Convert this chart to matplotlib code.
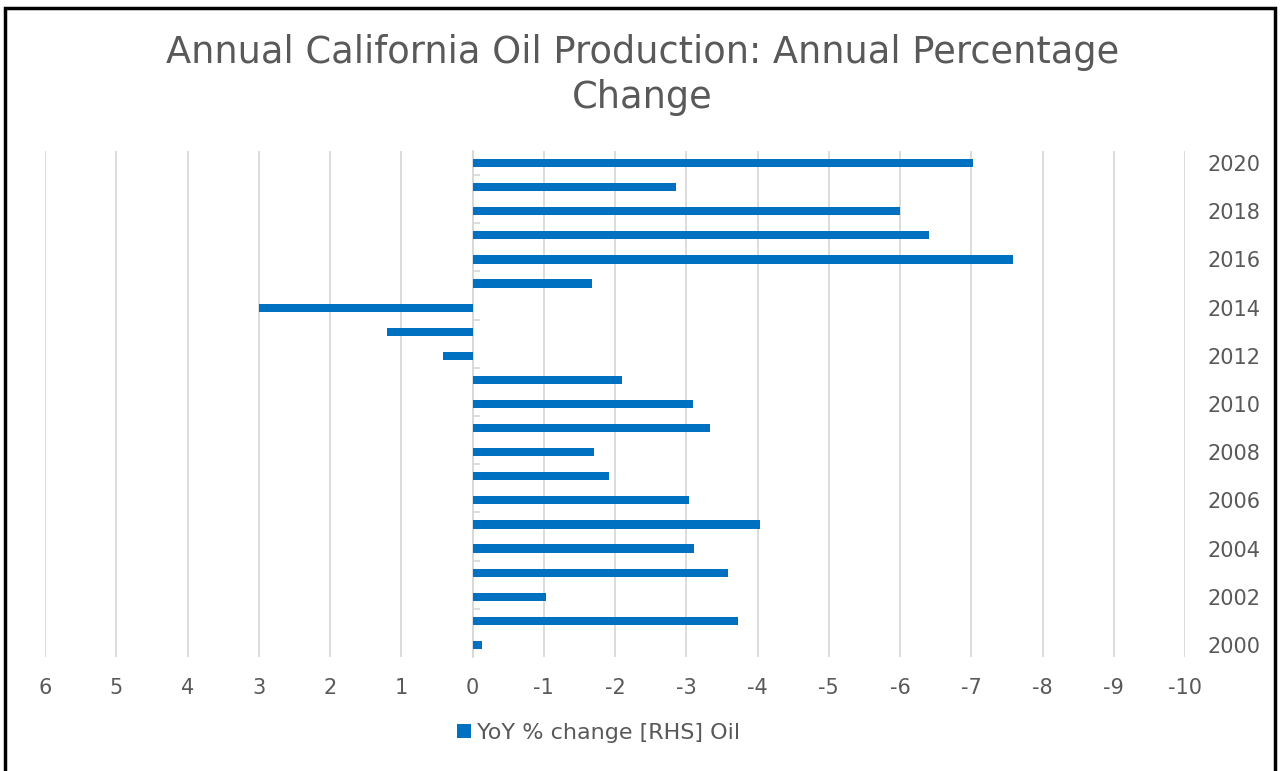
import numpy as np
import matplotlib.pyplot as plt
from matplotlib.patches import Rectangle

years = list(range(2000, 2021))
yoy_change = [-0.13, -3.73, -1.03, -3.59, -3.11, -4.04, -3.04, -1.92, -1.70, -3.34,
              -3.10, -2.10, 0.41, 1.20, 3.00, -1.68, -7.59, -6.41, -6.00, -2.86, -7.03]
x_ticks = list(range(6, -11, -1))
year_labels = [str(y) for y in years[::2]]

plt.rcParams['font.family'] = ['DejaVu Sans']
grey = '#595959'
blue = '#0070C0'

fig = plt.figure(figsize=(12.8, 7.71), dpi=100)
ax = fig.add_axes([45/1280, 1 - 657/771, (1185 - 45)/1280, (657 - 151)/771])

pos = np.arange(len(years))
ax.barh(pos, yoy_change, height=0.34, color=blue, label='YoY % change [RHS] Oil', zorder=3)

ax.set_xlim(6, -10)
ax.set_ylim(-0.5, len(years) - 0.5)
ax.set_xticks(x_ticks)
ax.set_xticklabels([str(t) for t in x_ticks])
ax.grid(axis='x', color='#D9D9D9', linewidth=1.3, zorder=0)

for s in ['top', 'bottom', 'right']:
    ax.spines[s].set_visible(False)
ax.spines['left'].set_position(('data', 0))
ax.spines['left'].set_color('#D9D9D9')
ax.spines['left'].set_linewidth(1.3)
ax.spines['left'].set_zorder(2)

ax.set_yticks(pos[::2])
ax.set_yticklabels(year_labels)
ax.set_yticks(pos[::2][1:] - 0.5, minor=True)
ax.tick_params(axis='y', which='major', left=False, right=False,
               labelleft=False, labelright=True, pad=13, labelsize=15, labelcolor=grey)
ax.tick_params(axis='y', which='minor', left=True, direction='in', length=5,
               width=1.3, color='#D9D9D9')
ax.tick_params(axis='x', length=0, pad=15, labelsize=15, labelcolor=grey)

fig.text(0.502, 1 - 75/771, 'Annual California Oil Production: Annual Percentage\nChange',
         ha='center', va='center', fontsize=26.5, color=grey, linespacing=1.25)

fig.legend(loc='center', bbox_to_anchor=(599/1280, 1 - 733/771), frameon=False,
           fontsize=16, labelcolor=grey, handlelength=0.6, handleheight=0.6,
           handletextpad=0.3)

fig.patches.append(Rectangle((5/1280, -0.02), 1270/1280, 1.02 - 8/771,
                             transform=fig.transFigure, fill=False,
                             edgecolor='black', linewidth=2.5))

fig.savefig('out.png', dpi=100)
